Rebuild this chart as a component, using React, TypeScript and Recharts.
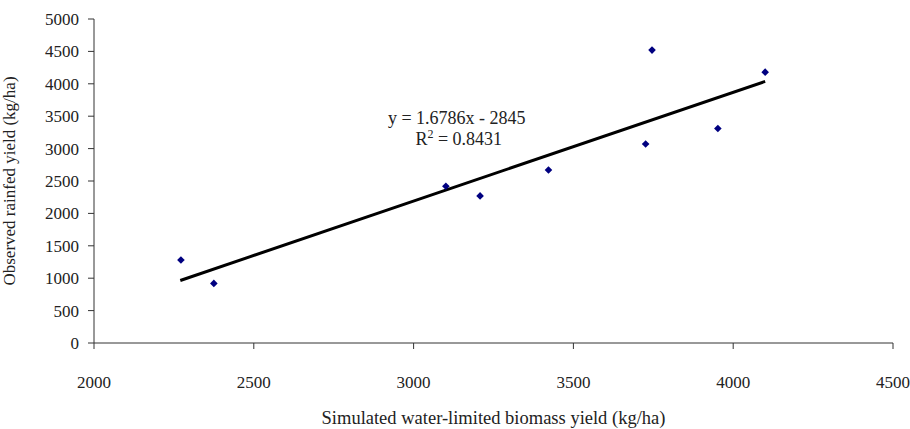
import React from "react";
import { ScatterChart, Scatter, XAxis, YAxis, ReferenceDot } from "recharts";

const simulated = [2272, 2375, 3101, 3208, 3422, 3746, 3726, 3952, 4100];
const observed = [1280, 920, 2420, 2270, 2670, 4520, 3070, 3310, 4180];
const trendX = [2270, 4100];
const trendY = [965, 4037];
const xTicks = [2000, 2500, 3000, 3500, 4000, 4500];
const yTicks = [0, 500, 1000, 1500, 2000, 2500, 3000, 3500, 4000, 4500, 5000];
const equationText = "y = 1.6786x - 2845";
const r2Value = "0.8431";

const points = simulated.map((x, i) => ({ x, y: observed[i] }));
const trend = trendX.map((x, i) => ({ x, y: trendY[i] }));

const FONT = "'Liberation Serif', 'DejaVu Serif', serif";
const TEXT = "#222";

const Diamond = (props: any) => {
  const { cx, cy } = props;
  const r = 3.8;
  return (
    <polygon
      points={`${cx},${cy - r} ${cx + r},${cy} ${cx},${cy + r} ${cx - r},${cy}`}
      fill="#000080"
    />
  );
};

const EqLabel = (props: any) => {
  const { viewBox } = props;
  const x = viewBox.x;
  const y = viewBox.y;
  return (
    <g fontFamily={FONT} fontSize={18} fill={TEXT}>
      <text x={x} y={y - 4} textAnchor="middle">{equationText}</text>
      <text x={x + 2} y={y + 17} textAnchor="middle">
        <tspan>R</tspan>
        <tspan dy={-7} fontSize={12}>2</tspan>
        <tspan dy={7}>{` = ${r2Value}`}</tspan>
      </text>
    </g>
  );
};

export default function App() {
  return (
    <div style={{ position: "absolute", left: 0, top: 0, background: "#fff" }}>
      <ScatterChart
        width={910}
        height={429}
        margin={{ top: 19, right: 17, bottom: 0, left: 34 }}
      >
        <XAxis
          type="number"
          dataKey="x"
          domain={[2000, 4500]}
          ticks={xTicks}
          tickSize={6}
          tickMargin={27}
          height={86}
          axisLine={{ stroke: "#333" }}
          tickLine={{ stroke: "#333" }}
          tick={{ fill: TEXT, fontFamily: FONT, fontSize: 17 }}
          label={{
            value: "Simulated water-limited biomass yield (kg/ha)",
            position: "insideBottom",
            offset: 5,
            fill: TEXT,
            fontFamily: FONT,
            fontSize: 18.5,
          }}
        />
        <YAxis
          type="number"
          dataKey="y"
          domain={[0, 5000]}
          ticks={yTicks}
          tickSize={6}
          tickMargin={9}
          width={60}
          axisLine={{ stroke: "#333" }}
          tickLine={{ stroke: "#333" }}
          tick={{ fill: TEXT, fontFamily: FONT, fontSize: 17 }}
          label={{
            value: "Observed rainfed yield (kg/ha)",
            angle: -90,
            position: "insideLeft",
            offset: -25,
            style: { textAnchor: "middle" },
            fill: TEXT,
            fontFamily: FONT,
            fontSize: 17,
          }}
        />
        <Scatter
          data={trend}
          line={{ stroke: "#000", strokeWidth: 3 }}
          shape={() => null}
          isAnimationActive={false}
        />
        <Scatter data={points} shape={Diamond} isAnimationActive={false} />
        <ReferenceDot
          x={3135}
          y={3318}
          r={0}
          fill="none"
          stroke="none"
          label={<EqLabel />}
        />
      </ScatterChart>
    </div>
  );
}
